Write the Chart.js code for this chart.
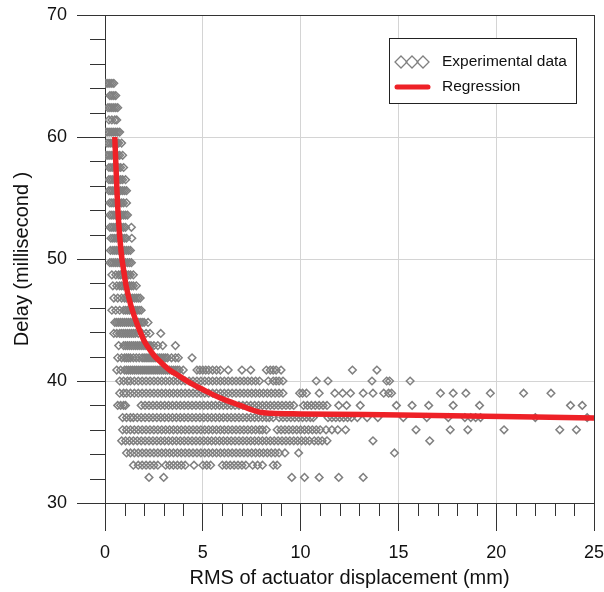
<!DOCTYPE html>
<html><head><meta charset="utf-8">
<script src="https://cdn.jsdelivr.net/npm/chart.js@4.4.1/dist/chart.umd.min.js"></script>
<style>html,body{margin:0;padding:0;background:#fff;}#wrap{width:604px;height:592px;}</style>
</head><body><div id="wrap"><canvas id="c" width="604" height="592"></canvas></div>
<script>
// ---- Experimental data: x = RMS displacement (mm) for each quantised delay level (ms)
const d64_4 = [0.05,0.15,0.25,0.35,0.45];
const d63_4 = [0.25,0.35,0.45,0.55];
const d62_4 = [0.15,0.25,0.35,0.45,0.55,0.65];
const d61_4 = [0.2,0.35,0.5,0.6];
const d60_4 = [0.05,0.15,0.25,0.35,0.45,0.55,0.65,0.75];
const d59_5 = [0.1,0.2,0.3,0.4,0.5,0.6,0.7,0.85];
const d58_5 = [0.05,0.15,0.25,0.35,0.45,0.55,0.65,0.75,0.9];
const d57_5 = [0.2,0.3,0.4,0.5,0.6,0.7,0.8,0.95];
const d56_5 = [0.2,0.3,0.4,0.5,0.6,0.7,0.8,0.9,1.05];
const d55_6 = [0.2,0.3,0.4,0.5,0.6,0.7,0.8,0.9,1.0,1.1];
const d54_6 = [0.25,0.35,0.45,0.55,0.65,0.75,0.85,0.95,1.1];
const d53_6 = [0.25,0.35,0.45,0.55,0.65,0.75,0.85,0.95,1.05,1.15];
const d52_6 = [0.25,0.35,0.45,0.55,0.65,0.75,0.85,0.95,1.05,1.35];
const d51_7 = [0.3,0.4,0.5,0.6,0.7,0.8,0.9,1.0,1.1,1.37];
const d50_7 = [0.28,0.4,0.5,0.6,0.7,0.8,0.9,1.0,1.1,1.2,1.3];
const d49_7 = [0.25,0.35,0.45,0.55,0.65,0.75,0.85,0.95,1.05,1.15,1.25,1.35];
const d48_7 = [0.35,0.55,0.7,0.8,0.9,1.0,1.1,1.2,1.3,1.45];
const d47_8 = [0.4,0.6,0.75,0.85,0.95,1.05,1.15,1.25,1.35,1.45,1.6];
const d46_8 = [0.45,0.65,0.85,1.0,1.1,1.2,1.3,1.4,1.5,1.6,1.7,1.8];
const d45_8 = [0.35,0.55,0.75,0.95,1.05,1.15,1.25,1.35,1.45,1.55,1.65,1.75,1.85];
const d44_8 = [0.5,0.6,0.7,0.8,0.9,1.0,1.1,1.2,1.3,1.4,1.5,1.6,1.7,1.8,1.9,2.0,2.2];
const d43_9 = [0.45,0.6,0.75,0.85,0.95,1.05,1.15,1.25,1.35,1.45,1.55,1.7,1.9,2.1,2.3,2.85];
const d42_9 = [0.7,0.95,1.05,1.15,1.25,1.35,1.45,1.55,1.65,1.75,1.85,1.95,2.05,2.15,2.25,2.35,2.5,2.7,2.95,3.6];
const d41_9 = [0.65,0.85,1.0,1.1,1.2,1.3,1.45,1.6,1.75,1.9,2.0,2.1,2.2,2.3,2.4,2.5,2.6,2.7,2.8,2.9,3.0,3.1,3.2,3.4,3.6,3.75,4.45];
const d40_9 = [0.6,0.8,1.0,1.1,1.2,1.3,1.4,1.5,1.6,1.7,1.8,1.9,2.0,2.1,2.2,2.3,2.4,2.5,2.6,2.7,2.8,2.9,3.0,3.1,3.2,3.3,3.4,3.5,3.6,3.7,3.8,4.0,4.7,4.85,5.0,5.15,5.3,5.5,5.7,5.9,6.3,7.0,7.45,8.25,8.45,8.6,8.75,9.0,12.65,13.9];
const d40_0 = [0.75,0.95,1.15,1.3,1.5,1.7,1.9,2.1,2.3,2.5,2.7,2.9,3.1,3.3,3.5,3.7,3.9,4.1,4.3,4.5,4.7,4.9,5.1,5.3,5.5,5.7,5.9,6.1,6.3,6.5,6.7,6.9,7.1,7.3,7.5,7.7,7.9,8.35,8.6,8.75,8.9,9.1,10.8,11.4,13.65,14.4,14.55,15.6];
const d39_0 = [0.75,0.95,1.1,1.3,1.5,1.7,1.9,2.1,2.3,2.5,2.7,2.9,3.1,3.3,3.5,3.7,3.9,4.1,4.3,4.5,4.7,4.9,5.1,5.3,5.5,5.7,5.9,6.1,6.3,6.5,6.7,6.9,7.1,7.3,7.5,7.7,7.9,8.1,8.3,8.5,8.7,8.9,9.1,9.95,10.1,10.3,10.95,11.75,12.15,12.55,13.2,13.7,14.25,14.5,14.65,17.15,17.8,18.45,19.7,21.4,22.8];
const d38_0 = [0.65,0.8,0.95,1.05,1.85,2.05,2.25,2.45,2.65,2.85,3.05,3.25,3.45,3.65,3.85,4.05,4.25,4.45,4.65,4.85,5.05,5.25,5.45,5.65,5.85,6.05,6.25,6.45,6.65,6.85,7.05,7.25,7.45,7.65,7.85,8.05,8.25,8.45,8.65,8.85,9.05,9.25,9.45,9.65,10.15,10.35,10.55,10.75,10.95,11.15,11.35,11.95,12.35,13.05,14.9,15.7,16.55,17.8,19.15,23.8,24.4];
const d37_0 = [0.9,1.1,1.3,1.45,1.65,1.85,2.05,2.25,2.45,2.65,2.85,3.05,3.25,3.45,3.65,3.85,4.05,4.25,4.45,4.65,4.85,5.05,5.25,5.45,5.65,5.85,6.05,6.25,6.45,6.65,6.85,7.05,7.25,7.45,7.65,7.85,8.05,8.25,8.4,8.6,8.9,9.1,9.3,9.5,9.7,9.9,10.1,10.3,10.5,10.65,11.4,11.6,11.8,12.0,12.2,12.4,12.6,12.9,13.4,13.95,15.25,16.45,17.55,18.4,18.7,18.95,19.2,22.0,24.65];
const d36_0 = [0.9,1.1,1.3,1.5,1.7,1.9,2.1,2.3,2.5,2.7,2.9,3.1,3.3,3.5,3.7,3.9,4.1,4.3,4.5,4.7,4.9,5.1,5.3,5.5,5.7,5.9,6.1,6.3,6.5,6.7,6.9,7.1,7.3,7.5,7.7,7.9,8.05,8.25,8.8,9.0,9.2,9.4,9.6,9.8,10.0,10.2,10.4,10.6,10.8,11.0,11.3,11.6,11.9,12.3,15.9,17.65,18.55,20.4,23.25,24.1];
const d35_1 = [0.85,1.05,1.25,1.45,1.65,1.85,2.05,2.25,2.45,2.65,2.85,3.05,3.25,3.45,3.65,3.85,4.05,4.25,4.45,4.65,4.85,5.05,5.25,5.45,5.65,5.85,6.05,6.25,6.45,6.65,6.85,7.05,7.25,7.45,7.65,7.85,8.05,8.25,8.45,8.65,8.85,9.05,9.25,9.45,9.65,9.85,10.05,10.25,10.45,10.7,10.9,11.1,11.35,13.7,16.6];
const d34_1 = [1.1,1.3,1.5,1.7,1.9,2.1,2.3,2.5,2.7,2.9,3.1,3.3,3.5,3.7,3.9,4.1,4.3,4.5,4.7,4.9,5.1,5.3,5.5,5.7,5.9,6.1,6.3,6.5,6.7,6.9,7.1,7.3,7.5,7.7,7.9,8.1,8.3,8.5,8.7,8.9,9.2,9.9,14.8];
const d33_1 = [1.45,1.7,1.9,2.1,2.3,2.5,2.7,3.1,3.3,3.5,3.7,3.9,4.1,4.55,5.0,5.2,5.4,6.0,6.2,6.4,6.6,6.8,7.0,7.2,7.55,7.8,8.05,8.6,8.8];
const d32_1 = [2.25,3.0,9.55,10.2,10.95,11.95,13.2];

const delayLevels = [64.4,63.4,62.4,61.4,60.4,59.5,58.5,57.5,56.5,55.6,54.6,53.6,52.6,51.7,50.7,49.7,48.7,47.8,46.8,45.8,44.8,43.9,42.9,41.9,40.9,40.0,39.0,38.0,37.0,36.0,35.1,34.1,33.1,32.1];
const rmsRows = [d64_4,d63_4,d62_4,d61_4,d60_4,d59_5,d58_5,d57_5,d56_5,d55_6,d54_6,d53_6,d52_6,d51_7,d50_7,d49_7,d48_7,d47_8,d46_8,d45_8,d44_8,d43_9,d42_9,d41_9,d40_9,d40_0,d39_0,d38_0,d37_0,d36_0,d35_1,d34_1,d33_1,d32_1];

// ---- Regression curve
const regX = [0.5,0.54,0.6,0.69,0.83,1.0,1.09,1.34,1.68,2.0,2.19,2.5,2.88,3.3,3.8,4.4,5.0,5.9,6.9,7.9,8.5,10,16,25];
const regY = [60.0,58.4,56.0,53.2,50.5,48.6,47.7,46.1,44.5,43.3,42.8,42.1,41.5,40.9,40.4,39.8,39.3,38.6,38.0,37.45,37.35,37.3,37.2,36.97];

// ---- Axis ticks
const xMajorTicks = [0,5,10,15,20,25];
const yMajorTicks = [30,40,50,60,70];

const expPoints = [];
rmsRows.forEach((row, i) => row.forEach(x => expPoints.push({x: x, y: delayLevels[i]})));
const regPoints = regX.map((x, i) => ({x: x, y: regY[i]}));

const FONT = 'Liberation Sans, Arial, sans-serif';
const GREY = '#808080';
const RED = '#ee2127';

const minorTicks = {
  id: 'minorTicks',
  afterDraw(chart) {
    const {ctx, chartArea: a, scales: {x, y}} = chart;
    ctx.save();
    ctx.strokeStyle = '#333';
    ctx.lineWidth = 1;
    ctx.beginPath();
    for (let v = 1; v < 25; v++) {
      if (v % 5 === 0) continue;
      const px = Math.round(x.getPixelForValue(v)) + 0.5;
      ctx.moveTo(px, a.bottom); ctx.lineTo(px, a.bottom + 13);
    }
    for (let v = 32; v < 70; v += 2) {
      if (v % 10 === 0) continue;
      const py = Math.round(y.getPixelForValue(v)) + 0.5;
      ctx.moveTo(a.left - 15, py); ctx.lineTo(a.left, py);
    }
    ctx.stroke();
    ctx.restore();
  }
};

function diamond(ctx, cx, cy, r) {
  ctx.beginPath();
  ctx.moveTo(cx, cy - r); ctx.lineTo(cx + r, cy); ctx.lineTo(cx, cy + r); ctx.lineTo(cx - r, cy); ctx.closePath();
  ctx.stroke();
}

const boxLegend = {
  id: 'boxLegend',
  afterDraw(chart) {
    const ctx = chart.ctx;
    ctx.save();
    ctx.fillStyle = '#fff';
    ctx.fillRect(389.5, 38.5, 187, 65);
    ctx.strokeStyle = '#222';
    ctx.lineWidth = 1;
    ctx.strokeRect(389.5, 38.5, 187, 65);
    ctx.strokeStyle = GREY;
    ctx.lineWidth = 1.3;
    [401, 412, 423].forEach(cx => diamond(ctx, cx, 62, 6));
    ctx.strokeStyle = RED;
    ctx.lineWidth = 5;
    ctx.lineCap = 'round';
    ctx.beginPath(); ctx.moveTo(397, 87); ctx.lineTo(428, 87); ctx.stroke();
    ctx.fillStyle = '#111';
    ctx.font = '15.5px ' + FONT;
    ctx.textBaseline = 'middle';
    ctx.fillText(chart.data.datasets[1].label, 442, 62);
    ctx.fillText(chart.data.datasets[0].label, 442, 87);
    ctx.restore();
  }
};

new Chart(document.getElementById('c'), {
  type: 'scatter',
  data: {
    datasets: [
      {
        label: 'Regression',
        data: regPoints,
        showLine: true,
        borderColor: RED,
        borderWidth: 5.5,
        pointRadius: 0,
        cubicInterpolationMode: 'monotone',
        fill: false
      },
      {
        label: 'Experimental data',
        data: expPoints,
        showLine: false,
        pointStyle: 'rectRot',
        pointRadius: 3.8,
        pointBorderColor: GREY,
        pointBackgroundColor: 'rgba(255,255,255,0)',
        pointBorderWidth: 1.5
      }
    ]
  },
  options: {
    responsive: false,
    animation: false,
    devicePixelRatio: 1,
    layout: {padding: {top: 15, right: 10, left: 0, bottom: 0}},
    plugins: {legend: {display: false}, tooltip: {enabled: false}},
    scales: {
      x: {
        type: 'linear', min: 0, max: 25,
        afterBuildTicks: s => { s.ticks = xMajorTicks.map(v => ({value: v})); },
        ticks: {font: {family: FONT, size: 18}, color: '#111', padding: 11, maxRotation: 0},
        grid: {
          color: c => (c.tick && c.tick.value === 25) ? '#333' : (c.tick && c.tick.value === 0 ? 'rgba(0,0,0,0)' : '#d4d4d4'),
          tickColor: '#333', tickLength: 28, lineWidth: 1
        },
        border: {color: '#333', width: 1},
        title: {display: true, text: 'RMS of actuator displacement (mm)', font: {family: FONT, size: 20}, color: '#111', padding: {top: 0, bottom: 2}},
        afterFit: s => { s.height = 89; s.paddingLeft = 0; s.paddingRight = 0; }
      },
      y: {
        type: 'linear', min: 30, max: 70,
        afterBuildTicks: s => { s.ticks = yMajorTicks.map(v => ({value: v})); },
        ticks: {font: {family: FONT, size: 18}, color: '#111', padding: 10},
        grid: {
          color: c => (c.tick && c.tick.value === 70) ? '#333' : (c.tick && c.tick.value === 30 ? 'rgba(0,0,0,0)' : '#d4d4d4'),
          tickColor: '#333', tickLength: 28, lineWidth: 1
        },
        border: {color: '#333', width: 1},
        title: {display: true, text: 'Delay (millisecond )', font: {family: FONT, size: 20}, color: '#111', padding: {top: 10, bottom: 0}},
        afterFit: s => { s.width = 105; s.paddingTop = 0; s.paddingBottom = 0; }
      }
    }
  },
  plugins: [minorTicks, boxLegend]
});
</script></body></html>
